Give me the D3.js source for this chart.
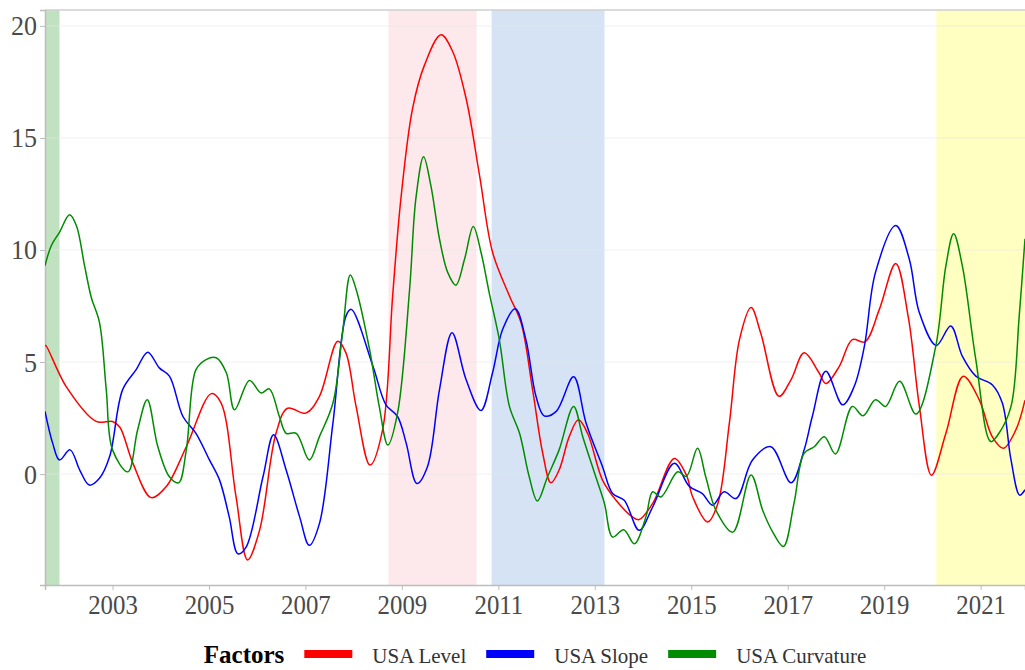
<!DOCTYPE html>
<html>
<head>
<meta charset="utf-8">
<script src="https://cdn.jsdelivr.net/npm/d3@7"></script>
<style>
  html, body { margin: 0; padding: 0; background: #fff; }
  svg { display: block; }
  text { font-family: "Liberation Serif", "Times New Roman", serif; }
</style>
</head>
<body>
<svg id="chart" width="1025" height="670"></svg>
<script>
// Factor series (decimal year, value)
const levelYears = [2001.6, 2001.63, 2002.04, 2002.66, 2003.0, 2003.15, 2003.42, 2003.8, 2004.11, 2004.53, 2005.05, 2005.25, 2005.56, 2005.8, 2006.05, 2006.39, 2006.63, 2007.01, 2007.29, 2007.67, 2007.84, 2008.05, 2008.34, 2008.6, 2008.81, 2008.98, 2009.22, 2009.47, 2009.81, 2010.05, 2010.33, 2010.61, 2010.88, 2011.23, 2011.47, 2011.71, 2011.92, 2012.09, 2012.26, 2012.47, 2012.66, 2012.85, 2013.16, 2013.44, 2013.78, 2013.92, 2014.2, 2014.65, 2014.9, 2015.03, 2015.34, 2015.55, 2015.79, 2016.0, 2016.24, 2016.44, 2016.82, 2017.07, 2017.34, 2017.65, 2017.79, 2018.07, 2018.34, 2018.6, 2018.9, 2019.24, 2019.5, 2019.73, 2019.98, 2020.28, 2020.64, 2020.97, 2021.24, 2021.47, 2021.73, 2021.92];
const levelValues = [5.75, 5.7, 3.9, 2.35, 2.35, 2.1, 0.5, -1.05, -0.57, 1.22, 3.59, 3.18, -1.0, -3.83, -2.5, 1.82, 2.94, 2.72, 3.47, 5.93, 5.41, 3.02, 0.4, 1.97, 8.0, 12.3, 16.3, 18.26, 19.6, 18.87, 16.77, 13.33, 9.9, 7.95, 6.76, 3.77, 0.93, -0.39, 0.18, 1.67, 2.42, 1.82, -0.27, -1.17, -1.91, -2.03, -1.31, 0.7, -0.05, -1.02, -2.14, -1.32, 2.27, 6.0, 7.43, 6.3, 3.47, 4.22, 5.41, 4.52, 4.04, 4.81, 6.0, 5.9, 7.35, 9.4, 7.0, 3.02, -0.05, 1.82, 4.37, 3.32, 1.67, 1.15, 1.97, 3.3];

const slopeYears = [2001.6, 2001.76, 2001.9, 2002.12, 2002.32, 2002.52, 2002.73, 2002.94, 2003.21, 2003.49, 2003.73, 2003.97, 2004.18, 2004.46, 2004.73, 2005.01, 2005.22, 2005.42, 2005.6, 2005.77, 2006.12, 2006.34, 2006.6, 2006.88, 2007.08, 2007.29, 2007.57, 2007.84, 2007.95, 2008.4, 2008.67, 2008.91, 2009.09, 2009.31, 2009.53, 2009.78, 2010.04, 2010.33, 2010.64, 2010.88, 2011.09, 2011.35, 2011.57, 2011.78, 2011.95, 2012.2, 2012.56, 2012.82, 2013.16, 2013.37, 2013.61, 2013.92, 2014.2, 2014.65, 2014.96, 2015.23, 2015.44, 2015.68, 2015.93, 2016.27, 2016.65, 2017.07, 2017.34, 2017.51, 2017.79, 2018.14, 2018.38, 2018.59, 2018.82, 2019.24, 2019.52, 2019.73, 2020.08, 2020.38, 2020.62, 2020.9, 2021.24, 2021.45, 2021.63, 2021.81, 2021.92];
const slopeValues = [2.8, 1.37, 0.63, 1.08, 0.18, -0.49, -0.19, 0.78, 3.77, 4.66, 5.44, 4.74, 4.37, 2.57, 1.82, 0.63, -0.27, -1.91, -3.56, -3.26, -0.12, 1.75, 0.18, -1.91, -3.18, -2.21, 2.27, 7.05, 7.35, 4.81, 3.09, 2.57, 1.37, -0.42, 0.33, 3.77, 6.31, 4.22, 2.84, 4.52, 6.46, 7.38, 6.01, 3.47, 2.6, 2.8, 4.34, 2.27, 0.33, -0.87, -1.17, -2.51, -1.47, 0.48, -0.55, -0.87, -1.39, -0.79, -1.09, 0.63, 1.22, -0.39, 1.08, 2.57, 4.59, 3.09, 3.92, 5.71, 9.0, 11.09, 9.6, 7.2, 5.74, 6.61, 5.26, 4.37, 3.99, 3.17, 0.63, -0.94, -0.7];

const curvatureYears = [2001.6, 2001.73, 2001.9, 2002.11, 2002.25, 2002.42, 2002.56, 2002.73, 2002.87, 2003.0, 2003.32, 2003.52, 2003.72, 2003.94, 2004.18, 2004.37, 2004.53, 2004.73, 2004.94, 2005.15, 2005.36, 2005.53, 2005.84, 2006.08, 2006.25, 2006.46, 2006.6, 2006.81, 2007.08, 2007.29, 2007.57, 2007.77, 2007.93, 2008.05, 2008.33, 2008.53, 2008.71, 2008.91, 2009.16, 2009.29, 2009.45, 2009.6, 2009.78, 2009.95, 2010.12, 2010.3, 2010.48, 2010.64, 2010.81, 2011.02, 2011.23, 2011.44, 2011.64, 2011.81, 2012.02, 2012.26, 2012.56, 2012.75, 2013.02, 2013.2, 2013.37, 2013.6, 2013.82, 2014.06, 2014.2, 2014.37, 2014.72, 2014.9, 2015.13, 2015.3, 2015.51, 2015.86, 2016.24, 2016.48, 2016.69, 2016.91, 2017.13, 2017.34, 2017.55, 2017.76, 2017.99, 2018.34, 2018.56, 2018.82, 2019.03, 2019.32, 2019.66, 2020.07, 2020.28, 2020.44, 2020.62, 2020.9, 2021.21, 2021.38, 2021.63, 2021.8, 2021.92];
const curvatureValues = [9.3, 10.19, 10.79, 11.57, 11.09, 9.3, 7.88, 6.76, 3.77, 1.08, 0.1, 1.97, 3.32, 1.22, -0.12, -0.39, 1.08, 4.66, 5.11, 5.19, 4.52, 2.87, 4.18, 3.62, 3.8, 2.57, 1.82, 1.82, 0.63, 1.67, 3.17, 6.31, 8.88, 8.25, 5.56, 3.02, 1.3, 2.72, 8.25, 12.29, 14.16, 12.88, 10.49, 9.0, 8.43, 9.6, 11.05, 9.9, 8.1, 6.0, 3.02, 1.82, -0.12, -1.2, -0.12, 1.08, 3.02, 1.67, -0.12, -1.31, -2.81, -2.48, -3.11, -1.91, -0.79, -1.02, 0.1, -0.1, 1.15, -0.12, -1.61, -2.59, -0.04, -1.61, -2.59, -3.23, -1.31, 0.93, 1.22, 1.67, 0.9, 3.02, 2.6, 3.32, 3.02, 4.14, 2.68, 5.71, 9.3, 10.72, 9.3, 5.11, 1.45, 1.82, 3.02, 7.05, 10.5];

// Shaded periods (start, end) and their fills
const bandStarts = [2001.6, 2008.72, 2010.86, 2020.08];
const bandEnds   = [2001.9, 2010.55, 2013.2, 2021.95];
const bandColors = ["#c1e2c1", "#fde9ec", "#d5e3f5", "#ffffc2"];

const seriesNames  = ["USA Level", "USA Slope", "USA Curvature"];
const seriesColors = ["#ff0000", "#0000ff", "#008b00"];
const xTickValues  = [2003, 2005, 2007, 2009, 2011, 2013, 2015, 2017, 2019, 2021];
const yTickValues  = [0, 5, 10, 15, 20];

const svg = d3.select("#chart");
const plot = { left: 45, right: 1025, top: 10, bottom: 585 };

const x = d3.scaleLinear().domain([2001.6, 2021.92]).range([plot.left, plot.right]);
const y = d3.scaleLinear().domain([-4.95, 20.71]).range([plot.bottom, plot.top]);

svg.append("defs").append("clipPath").attr("id", "plotClip")
  .append("rect")
  .attr("x", plot.left).attr("y", plot.top)
  .attr("width", plot.right - plot.left).attr("height", plot.bottom - plot.top);

// background bands
svg.append("g").attr("clip-path", "url(#plotClip)")
  .selectAll("rect").data(bandStarts).join("rect")
  .attr("x", (d) => x(d))
  .attr("width", (d, i) => x(bandEnds[i]) - x(d))
  .attr("y", plot.top).attr("height", plot.bottom - plot.top)
  .attr("fill", (d, i) => bandColors[i]);

// horizontal gridlines
svg.append("g").selectAll("line").data(yTickValues).join("line")
  .attr("x1", plot.left).attr("x2", plot.right)
  .attr("y1", (d) => y(d)).attr("y2", (d) => y(d))
  .attr("stroke", "#e6e6e6").attr("stroke-opacity", 0.6).attr("stroke-width", 1);

// top frame line
svg.append("line").attr("x1", plot.left).attr("x2", plot.right)
  .attr("y1", plot.top).attr("y2", plot.top)
  .attr("stroke", "#cfcfcf").attr("stroke-width", 1.5);

// axes (tick labels set in a slightly narrowed serif)
const xAxis = d3.axisBottom(x).tickValues(xTickValues).tickFormat(d3.format("d")).tickSize(5).tickPadding(5);
const gx = svg.append("g").attr("transform", `translate(0,${plot.bottom})`).call(xAxis);
gx.select(".domain").attr("stroke", "#bdbdbd").attr("stroke-width", 1.5);
gx.selectAll(".tick line").attr("stroke", "#bdbdbd");
gx.selectAll(".tick text").attr("font-size", 27).attr("fill", "#4a4a4a")
  .attr("font-family", "Liberation Serif, serif")
  .attr("transform", "scale(0.92,1)");

const yScaleX = 0.93;
const yAxis = d3.axisLeft(y).tickValues(yTickValues).tickFormat(d3.format("d")).tickSize(5).tickPadding(3);
const gy = svg.append("g").attr("transform", `translate(${plot.left},0)`).call(yAxis);
gy.select(".domain").attr("stroke", "#bdbdbd").attr("stroke-width", 1.5);
gy.selectAll(".tick line").attr("stroke", "#bdbdbd");
gy.selectAll(".tick text").attr("font-size", 28).attr("fill", "#4a4a4a")
  .attr("font-family", "Liberation Serif, serif")
  .attr("x", -8 / yScaleX)
  .attr("transform", `scale(${yScaleX},1)`);

// factor lines
const series = [
  levelYears.map((t, i) => [t, levelValues[i]]),
  slopeYears.map((t, i) => [t, slopeValues[i]]),
  curvatureYears.map((t, i) => [t, curvatureValues[i]])
];
const line = d3.line().x((d) => x(d[0])).y((d) => y(d[1])).curve(d3.curveCatmullRom.alpha(0.5));

svg.append("g").attr("clip-path", "url(#plotClip)")
  .selectAll("path").data(series).join("path")
  .attr("d", line)
  .attr("fill", "none")
  .attr("stroke", (d, i) => seriesColors[i])
  .attr("stroke-width", 1.5)
  .attr("stroke-linejoin", "round");

// legend
const legend = svg.append("g");
const title = legend.append("text").text("Factors")
  .attr("font-size", 25).attr("font-weight", "bold").attr("fill", "#000")
  .attr("y", 663);
let cursor = title.node().getComputedTextLength() + 20;
const keyW = 48, keyH = 8;
seriesNames.forEach((name, i) => {
  legend.append("rect").attr("x", cursor).attr("y", 650).attr("width", keyW).attr("height", keyH)
    .attr("fill", seriesColors[i]);
  cursor += keyW + 20;
  const t = legend.append("text").text(name).attr("x", cursor).attr("y", 663)
    .attr("font-size", 21).attr("fill", "#333");
  cursor += t.node().getComputedTextLength() + 20;
});
const legendWidth = cursor - 20;
legend.attr("transform", `translate(${(plot.left + plot.right) / 2 - legendWidth / 2},0)`);
</script>
</body>
</html>
